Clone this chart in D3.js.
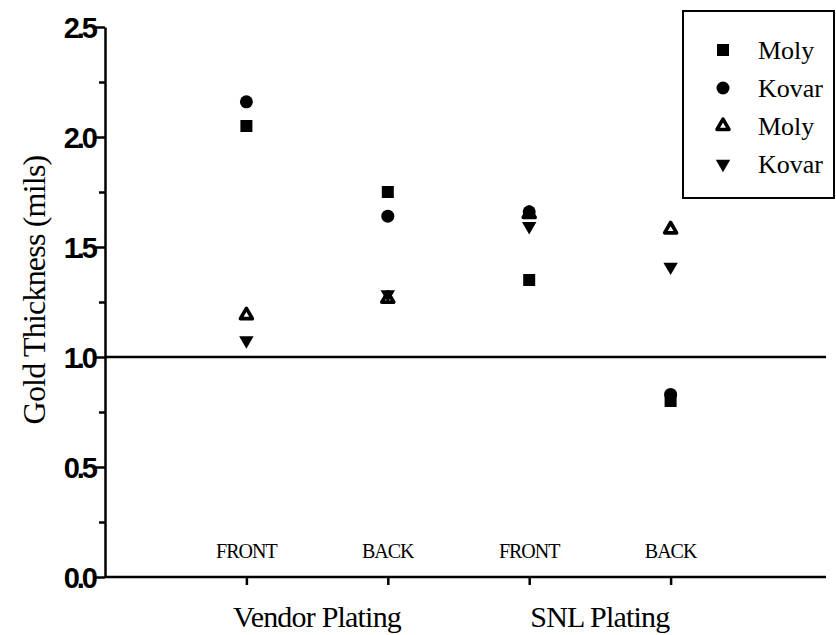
<!DOCTYPE html>
<html>
<head>
<meta charset="utf-8">
<script src="https://cdn.jsdelivr.net/npm/d3@7"></script>
<style>
  body { margin: 0; background: #fff; }
  svg { display: block; }
  .tick text { font-family: "Liberation Sans", Arial, sans-serif; }
</style>
</head>
<body>
<div class="graph"></div>
<script>
// data
var positions = ['VF', 'VB', 'SF', 'SB'];
var sideLabels = ['FRONT', 'BACK', 'FRONT', 'BACK'];
var groups = ['Vendor Plating', 'SNL Plating'];
var groupOf = [0, 0, 1, 1];
var yTicks = [0, 0.5, 1.0, 1.5, 2.0, 2.5];
var yMinor = [0.25, 0.75, 1.25, 1.75, 2.25];
var refValue = 1.0;

var seriesNames = ['Moly', 'Kovar', 'Moly', 'Kovar'];
var seriesShapes = ['square', 'circle', 'triUp', 'triDown'];
var molySquare = [2.05, 1.75, 1.35, 0.80];
var kovarCircle = [2.16, 1.64, 1.66, 0.83];
var molyTriUp = [1.19, 1.265, 1.65, 1.58];
var kovarTriDown = [1.075, 1.285, 1.595, 1.41];
var seriesValues = [molySquare, kovarCircle, molyTriUp, kovarTriDown];

// svg
var w = 836, h = 635;
var svg = d3.select('div.graph').append('svg').attr('width', w).attr('height', h);

// plot edges (window.top is reserved, so use a margin object)
var m = {left: 105, right: 826, top: 27, bottom: 577};

var x = d3.scalePoint().domain(positions).range([m.left, 812]).padding(1);
var y = d3.scaleLinear().domain([0, 2.5]).range([m.bottom, m.top]);

// y axis - minor ticks
var yMinorAxis = d3.axisLeft(y).tickValues(yMinor).tickSize(6).tickFormat('');
var gMinor = svg.append('g').attr('transform', 'translate(' + m.left + ',0)').call(yMinorAxis);
gMinor.select('.domain').remove();
gMinor.selectAll('line').attr('stroke-width', 2.5);

// y axis - major
var yAxis = d3.axisLeft(y).tickValues(yTicks).tickSize(10).tickSizeOuter(0)
  .tickFormat(d3.format('.1f'));
var gy = svg.append('g').attr('transform', 'translate(' + m.left + ',0)').call(yAxis);
gy.select('.domain').attr('stroke-width', 2.5);
gy.selectAll('.tick line').attr('stroke-width', 2.5);
gy.selectAll('.tick text')
  .attr('x', -10).attr('dy', '0.36em')
  .attr('font-size', 29).attr('letter-spacing', -3).attr('font-weight', 'bold')
  .attr('fill', '#000');

// x axis
var xAxis = d3.axisBottom(x).tickSize(8).tickSizeOuter(0).tickFormat('');
var gx = svg.append('g').attr('transform', 'translate(0,' + m.bottom + ')').call(xAxis);
gx.select('.domain').attr('d', 'M' + m.left + ',0H' + m.right).attr('stroke-width', 2.5);
gx.selectAll('.tick line').attr('stroke-width', 2.5);

// reference line at 1.0
svg.append('line')
  .attr('x1', m.left).attr('x2', m.right)
  .attr('y1', y(refValue)).attr('y2', y(refValue))
  .attr('stroke', '#000').attr('stroke-width', 2.5);

// FRONT / BACK labels inside plot
svg.selectAll('.side')
  .data(positions)
  .enter().append('text')
  .attr('class', 'side')
  .attr('x', function(d){ return x(d); })
  .attr('y', 558)
  .attr('text-anchor', 'middle')
  .attr('font-family', '"Liberation Serif", "Times New Roman", serif')
  .attr('font-size', 20).attr('letter-spacing', -1)
  .text(function(d, i){ return sideLabels[i]; });

// group labels
svg.selectAll('.group')
  .data(groups)
  .enter().append('text')
  .attr('class', 'group')
  .attr('x', function(d, gi){
    var xs = positions.filter(function(p, i){ return groupOf[i] === gi; }).map(x);
    return d3.mean(xs);
  })
  .attr('y', 627)
  .attr('text-anchor', 'middle')
  .attr('font-family', '"Liberation Serif", "Times New Roman", serif')
  .attr('font-size', 30).attr('letter-spacing', -0.8)
  .text(function(d){ return d; });

// y title
svg.append('text')
  .attr('transform', 'translate(45,' + 290 + ') rotate(-90)')
  .attr('text-anchor', 'middle')
  .attr('font-family', '"Liberation Serif", "Times New Roman", serif')
  .attr('font-size', 32).attr('letter-spacing', -0.8)
  .text('Gold Thickness (mils)');

// marker drawing
function drawMarker(g, shape, cx, cy) {
  if (shape === 'square') {
    g.append('rect').attr('x', cx - 6).attr('y', cy - 6)
      .attr('width', 12).attr('height', 12).attr('fill', '#000');
  } else if (shape === 'circle') {
    g.append('circle').attr('cx', cx).attr('cy', cy).attr('r', 6.5).attr('fill', '#000');
  } else if (shape === 'triUp') {
    g.append('path')
      .attr('d', d3.symbol().type(d3.symbolTriangle).size(62)())
      .attr('transform', 'translate(' + cx + ',' + cy + ')')
      .attr('fill', '#fff').attr('stroke', '#000').attr('stroke-width', 3.6)
      .attr('stroke-linejoin', 'round');
  } else {
    g.append('path')
      .attr('d', d3.symbol().type(d3.symbolTriangle).size(90)())
      .attr('transform', 'translate(' + cx + ',' + cy + ') rotate(180)')
      .attr('fill', '#000');
  }
}

// points (draw order: tri up, square, circle, tri down)
var marks = svg.append('g').attr('class', 'marks');
[2, 0, 1, 3].forEach(function(si){
  seriesValues[si].forEach(function(v, i){
    drawMarker(marks, seriesShapes[si], x(positions[i]), y(v));
  });
});

// legend
var leg = svg.append('g').attr('class', 'legend');
leg.append('rect')
  .attr('x', 683).attr('y', 11).attr('width', 151).attr('height', 187)
  .attr('fill', '#fff').attr('stroke', '#000').attr('stroke-width', 2);
seriesNames.forEach(function(name, i){
  var ly = 50 + i * 38;
  drawMarker(leg, seriesShapes[i], 723, ly);
  leg.append('text')
    .attr('x', 758).attr('y', ly + 9)
    .attr('font-family', '"Liberation Serif", "Times New Roman", serif')
    .attr('font-size', 26)
    .text(name);
});
</script>
</body>
</html>
